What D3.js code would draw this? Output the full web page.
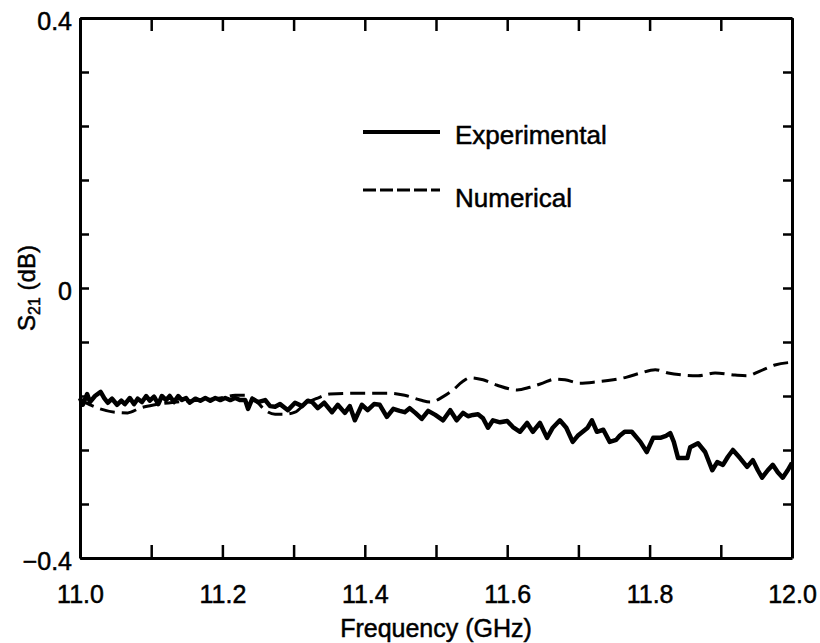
<!DOCTYPE html>
<html>
<head>
<meta charset="utf-8">
<script src="https://cdn.jsdelivr.net/npm/d3@7"></script>
<style>
  body { margin: 0; background: #fff; }
  svg { display: block; }
  text { font-family: "Liberation Sans", Arial, Helvetica, sans-serif; fill: #000; stroke: #000; stroke-width: 0.5px; }
</style>
</head>
<body>
<svg id="chart" width="820" height="643"></svg>
<script>
// ---- Data ----
const freqExp = [
  11.000, 11.004, 11.010, 11.014, 11.021, 11.029, 11.034, 11.039, 11.045, 11.052,
  11.058, 11.063, 11.070, 11.076, 11.081, 11.087, 11.093, 11.098, 11.104, 11.110,
  11.115, 11.121, 11.126, 11.132, 11.138, 11.143, 11.149, 11.154, 11.162, 11.169,
  11.176, 11.183, 11.190, 11.197, 11.204, 11.211, 11.218, 11.225, 11.232, 11.236,
  11.242, 11.250, 11.260, 11.267, 11.274, 11.281, 11.292, 11.302, 11.312, 11.320,
  11.326, 11.334, 11.343, 11.354, 11.362, 11.372, 11.379, 11.386, 11.396, 11.404,
  11.413, 11.421, 11.431, 11.440, 11.449, 11.456, 11.463, 11.471, 11.480, 11.489,
  11.499, 11.510, 11.520, 11.529, 11.538, 11.545, 11.552, 11.559, 11.566, 11.573,
  11.580, 11.590, 11.600, 11.608, 11.618, 11.628, 11.636, 11.646, 11.656, 11.664,
  11.674, 11.683, 11.692, 11.699, 11.706, 11.713, 11.719, 11.726, 11.735, 11.744,
  11.753, 11.758, 11.765, 11.775, 11.787, 11.796, 11.805, 11.815, 11.823, 11.829,
  11.834, 11.840, 11.853, 11.857, 11.868, 11.878, 11.888, 11.895, 11.903, 11.910,
  11.917, 11.927, 11.937, 11.945, 11.952, 11.958, 11.966, 11.973, 11.980, 11.987,
  11.994, 12.000
];
const s21Exp = [
  -0.163, -0.173, -0.157, -0.169, -0.160, -0.154, -0.163, -0.170, -0.164, -0.173,
  -0.167, -0.172, -0.163, -0.172, -0.164, -0.169, -0.160, -0.167, -0.161, -0.172,
  -0.160, -0.166, -0.160, -0.169, -0.160, -0.166, -0.163, -0.170, -0.164, -0.167,
  -0.163, -0.167, -0.163, -0.166, -0.163, -0.166, -0.163, -0.166, -0.166, -0.179,
  -0.164, -0.169, -0.166, -0.175, -0.176, -0.172, -0.181, -0.170, -0.175, -0.167,
  -0.169, -0.178, -0.170, -0.184, -0.173, -0.185, -0.175, -0.196, -0.173, -0.181,
  -0.172, -0.173, -0.191, -0.179, -0.182, -0.184, -0.178, -0.185, -0.194, -0.182,
  -0.188, -0.196, -0.181, -0.196, -0.185, -0.190, -0.188, -0.187, -0.193, -0.207,
  -0.196, -0.199, -0.197, -0.206, -0.213, -0.200, -0.213, -0.200, -0.222, -0.207,
  -0.196, -0.207, -0.228, -0.219, -0.213, -0.207, -0.196, -0.213, -0.210, -0.228,
  -0.225, -0.219, -0.213, -0.213, -0.228, -0.243, -0.222, -0.222, -0.219, -0.215,
  -0.228, -0.252, -0.252, -0.236, -0.230, -0.243, -0.270, -0.258, -0.262, -0.250,
  -0.240, -0.252, -0.265, -0.255, -0.270, -0.281, -0.270, -0.262, -0.273, -0.281,
  -0.270, -0.259
];
const freqNum = [
  11.000, 11.014, 11.028, 11.049, 11.067, 11.084, 11.105, 11.133, 11.169, 11.197,
  11.218, 11.232, 11.246, 11.260, 11.274, 11.288, 11.302, 11.316, 11.334, 11.351,
  11.393, 11.435, 11.456, 11.478, 11.492, 11.510, 11.524, 11.537, 11.548, 11.566,
  11.586, 11.614, 11.632, 11.650, 11.667, 11.681, 11.702, 11.726, 11.749, 11.768,
  11.787, 11.808, 11.826, 11.847, 11.868, 11.892, 11.920, 11.937, 11.955, 11.976,
  12.000
];
const s21Num = [
  -0.166, -0.173, -0.179, -0.184, -0.185, -0.178, -0.173, -0.169, -0.166, -0.163,
  -0.159, -0.159, -0.166, -0.181, -0.187, -0.187, -0.184, -0.172, -0.163, -0.157,
  -0.156, -0.156, -0.159, -0.166, -0.169, -0.161, -0.151, -0.139, -0.133, -0.136,
  -0.144, -0.151, -0.147, -0.141, -0.135, -0.136, -0.141, -0.139, -0.136, -0.132,
  -0.126, -0.121, -0.126, -0.129, -0.130, -0.126, -0.129, -0.130, -0.123, -0.114,
  -0.110
];
const seriesNames = ["Experimental", "Numerical"];
const xTicks = [11.0, 11.1, 11.2, 11.3, 11.4, 11.5, 11.6, 11.7, 11.8, 11.9, 12.0];
const xTickLabels = ["11.0", "11.2", "11.4", "11.6", "11.8", "12.0"];
const yTicks = [-0.4, -0.32, -0.24, -0.16, -0.08, 0, 0.08, 0.16, 0.24, 0.32, 0.4];
const yTickLabels = ["\u22120.4", "0", "0.4"];
const xLabel = "Frequency (GHz)";

// ---- Layout ----
const svg = d3.select("#chart");
const L = 80, R = 792, T = 18, B = 558;
const x = d3.scaleLinear().domain([11.0, 12.0]).range([L, R]);
const y = d3.scaleLinear().domain([-0.4, 0.4]).range([B, T]);

const fmtX = d => { const s = d.toFixed(1); return xTickLabels.includes(s) ? s : ""; };
const fmtY = d => {
  const s = Math.abs(d) < 1e-9 ? "0" : (d < 0 ? "\u2212" + Math.abs(d).toFixed(2).replace(/0$/, "") : d.toFixed(2).replace(/0$/, ""));
  return yTickLabels.includes(s) ? s : "";
};

function styleAxis(g) {
  g.selectAll(".domain").attr("stroke", "#000").attr("stroke-width", 3);
  g.selectAll(".tick line").attr("stroke", "#000").attr("stroke-width", 2.5);
  g.selectAll(".tick text").style("font-size", "25px").attr("fill", "#000")
    .style("font-family", "'Liberation Sans', Arial, sans-serif");
}

// bottom
svg.append("g").attr("transform", `translate(0,${B})`)
  .call(d3.axisBottom(x).tickValues(xTicks).tickSizeInner(-13).tickSizeOuter(0).tickPadding(27).tickFormat(fmtX))
  .call(styleAxis);
// top
svg.append("g").attr("transform", `translate(0,${T})`)
  .call(d3.axisTop(x).tickValues(xTicks).tickSizeInner(-13).tickSizeOuter(0).tickFormat(""))
  .call(styleAxis);
// left
svg.append("g").attr("transform", `translate(${L},0)`)
  .call(d3.axisLeft(y).tickValues(yTicks).tickSizeInner(-9).tickSizeOuter(0).tickPadding(8).tickFormat(fmtY))
  .call(styleAxis)
  .selectAll(".tick text").attr("dy", "0.45em");
// right
svg.append("g").attr("transform", `translate(${R},0)`)
  .call(d3.axisRight(y).tickValues(yTicks).tickSizeInner(-9).tickSizeOuter(0).tickFormat(""))
  .call(styleAxis);

// ---- Lines ----
const expData = freqExp.map((f, i) => [f, s21Exp[i]]);
const numData = freqNum.map((f, i) => [f, s21Num[i]]);

svg.append("path").datum(numData)
  .attr("fill", "none").attr("stroke", "#000").attr("stroke-width", 3)
  .attr("stroke-dasharray", "15,7")
  .attr("d", d3.line().x(d => x(d[0])).y(d => y(d[1])).curve(d3.curveMonotoneX));

svg.append("path").datum(expData)
  .attr("fill", "none").attr("stroke", "#000").attr("stroke-width", 4.5)
  .attr("stroke-linejoin", "round")
  .attr("d", d3.line().x(d => x(d[0])).y(d => y(d[1])));

// ---- Legend ----
const leg = svg.append("g");
leg.append("line").attr("x1", 363).attr("x2", 440).attr("y1", 132).attr("y2", 132)
  .attr("stroke", "#000").attr("stroke-width", 4);
leg.append("text").attr("x", 455).attr("y", 144).style("font-size", "26px").text(seriesNames[0]);
leg.append("line").attr("x1", 363).attr("x2", 440).attr("y1", 190).attr("y2", 190)
  .attr("stroke", "#000").attr("stroke-width", 3).attr("stroke-dasharray", "13,4");
leg.append("text").attr("x", 455).attr("y", 207).style("font-size", "26px").text(seriesNames[1]);

// ---- Axis titles ----
svg.append("text").attr("x", (L + R) / 2).attr("y", 637).attr("text-anchor", "middle")
  .style("font-size", "25px").text(xLabel);

const yl = svg.append("text").attr("transform", "translate(35,288) rotate(-90)")
  .attr("text-anchor", "middle").style("font-size", "24px");
yl.append("tspan").text("S");
yl.append("tspan").attr("dy", "5").style("font-size", "16px").text("21");
yl.append("tspan").attr("dy", "-5").text(" (dB)");
</script>
</body>
</html>
